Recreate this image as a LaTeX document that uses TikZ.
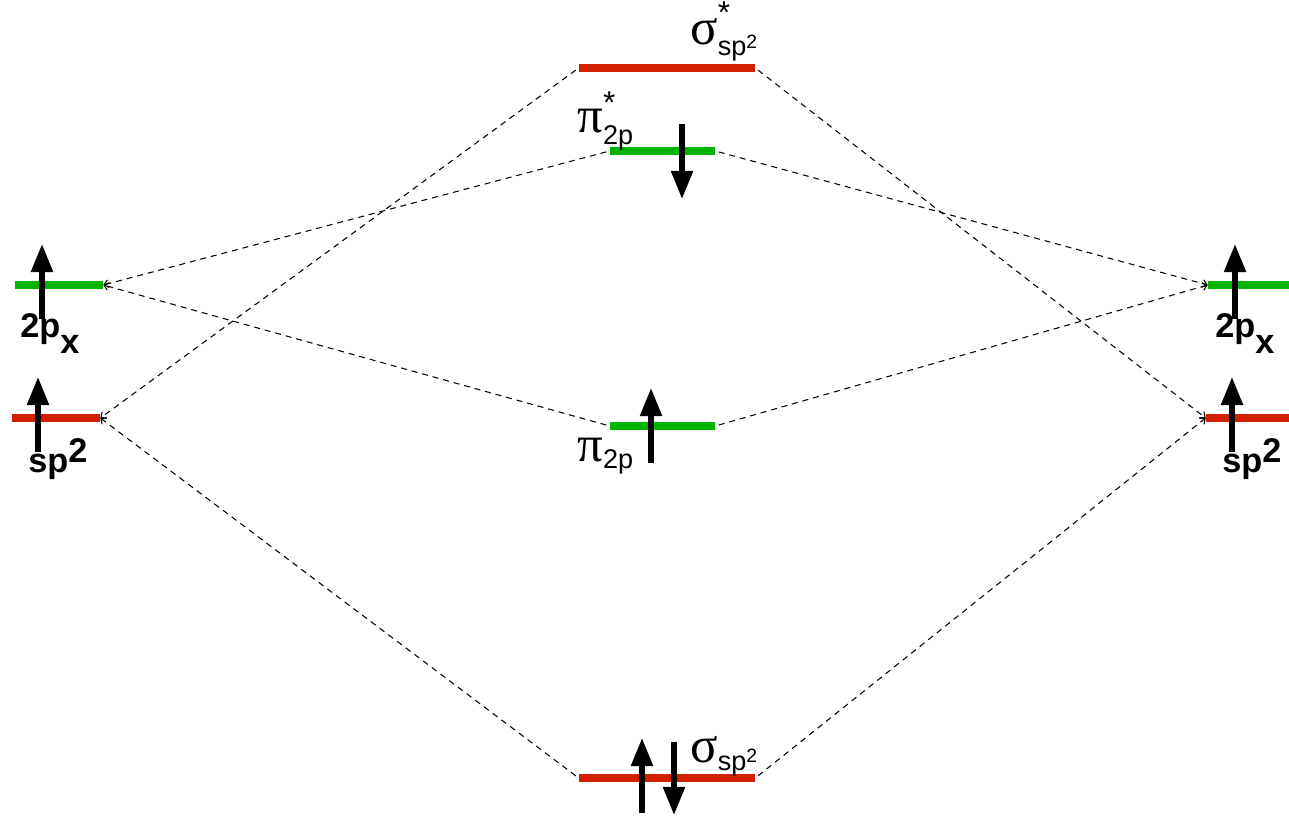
\documentclass[tikz,border=0pt]{standalone}
\usepackage{fontspec}
\usepackage{amsmath}
\setmainfont{Liberation Sans}
\newfontfamily\grk{Liberation Serif}
\usetikzlibrary{arrows.meta}
\definecolor{orbred}{RGB}{212,32,0}
\definecolor{orbgreen}{RGB}{0,180,0}

\newcommand{\gl}[1]{\text{\grk\fontsize{29}{30}\selectfont #1}}
\newcommand{\st}{\text{\raisebox{0.2em}{\fontsize{18}{18}\selectfont *}}}

\tikzset{
  lvl/.style={rectangle,inner sep=0pt,minimum height=0.16cm},
  redlvl/.style={lvl,fill=orbred},
  greenlvl/.style={lvl,fill=orbgreen},
  conn/.style={dash pattern=on 3.4pt off 2.8pt,line width=0.6pt,
    shorten <=2pt,-{Straight Barb[length=2.5pt,width=4.5pt]}},
  spin/.style={line width=3pt,-{Triangle[length=16pt,width=12pt]}},
  orb/.style={inner sep=0pt,font=\fontsize{19.5}{22}\selectfont\bfseries},
  mo/.style={inner sep=0pt,font=\fontsize{22}{26}\selectfont},
}

\begin{document}
\begin{tikzpicture}[x=0.02cm,y=-0.02cm]
  \useasboundingbox (0,0) rectangle (1289,817);

  % energy levels
  \node [redlvl,minimum width=3.52cm] (sgs) at (667,68) {};
  \node [greenlvl,minimum width=2.1cm] (pis) at (662.5,151) {};
  \node [greenlvl,minimum width=2.1cm] (pi) at (662.5,426) {};
  \node [redlvl,minimum width=3.52cm] (sg) at (667,778) {};
  \node [greenlvl,minimum width=1.76cm] (pxl) at (59,285) {};
  \node [redlvl,minimum width=1.76cm] (spl) at (56,418) {};
  \node [greenlvl,minimum width=1.62cm] (pxr) at (1248.5,285) {};
  \node [redlvl,minimum width=1.66cm] (spr) at (1247.5,418) {};

  \path
    (sgs.west) edge [conn] (spl.east)
    (sg.west)  edge [conn] (spl.east)
    (pis.west) edge [conn] (pxl.east)
    (pi.west)  edge [conn] (pxl.east)

    (sgs.east) edge [conn] (spr.west)
    (sg.east)  edge [conn] (spr.west)
    (pis.east) edge [conn] (pxr.west)
    (pi.east)  edge [conn] (pxr.west);

  % electrons
  \draw [spin] (42,319) -- (42,244);
  \draw [spin] (38,452) -- (38,377);
  \draw [spin] (1235,319) -- (1235,244);
  \draw [spin] (1232,452) -- (1232,377);
  \draw [spin] (682,124) -- (682,199);
  \draw [spin] (651,463) -- (651,388);
  \draw [spin] (642,813) -- (642,738);
  \draw [spin] (674,742) -- (674,815);

  % labels
  \node [orb,anchor=base west] (lpxl) at (20,338) {2p\raisebox{-0.45em}{x}};
  \node [orb,anchor=base west] (lspl) at (28,473) {sp\raisebox{0.3em}{2}};
  \node [orb,anchor=base west] (lpxr) at (1215,338) {2p\raisebox{-0.45em}{x}};
  \node [orb,anchor=base west] (lspr) at (1222,473) {sp\raisebox{0.3em}{2}};

  \node [mo,anchor=base west] (lsgs) at (690,45) {$\gl{σ}^{\st}_{\text{sp}^{\text{2}}}$};
  \node [mo,anchor=base west] (lpis) at (577,133) {$\gl{π}^{\st}_{\text{2p}}$};
  \node [mo,anchor=base west] (lpi) at (577,462) {$\gl{π}_{\text{2p}}$};
  \node [mo,anchor=base west] (lsg) at (690,762) {$\gl{σ}_{\text{sp}^{\text{2}}}$};
\end{tikzpicture}
\end{document}
